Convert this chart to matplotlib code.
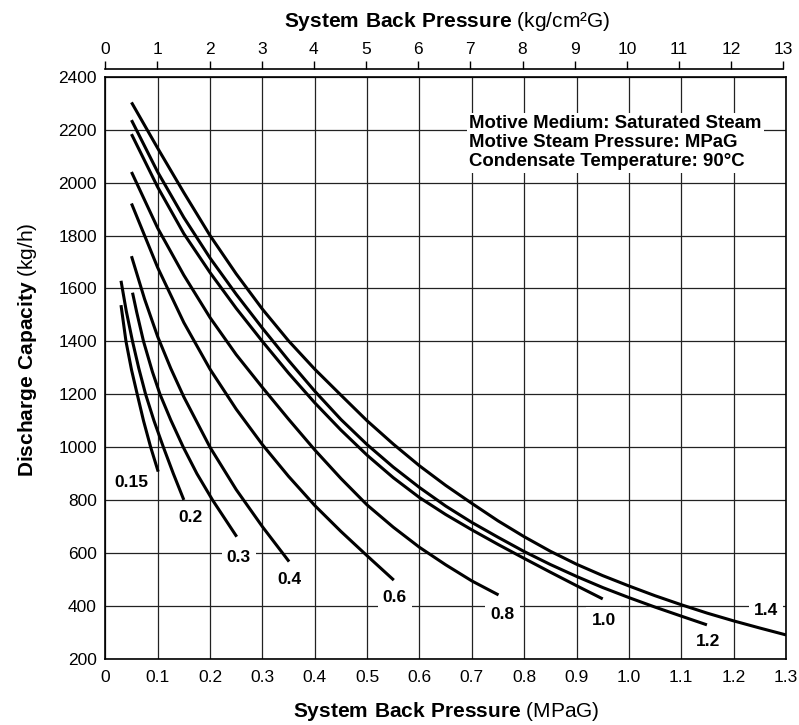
import numpy as np
import matplotlib
matplotlib.use('Agg')
import matplotlib.pyplot as plt

plt.rcParams['font.family'] = ['Liberation Sans', 'DejaVu Sans']
plt.rcParams['mathtext.fontset'] = 'custom'
plt.rcParams['mathtext.rm'] = 'Liberation Sans'
plt.rcParams['mathtext.bf'] = 'Liberation Sans:bold'

# curves: back pressure (MPaG) -> discharge capacity (kg/h)
c015_x = [0.030, 0.0395, 0.050, 0.061, 0.073, 0.0867, 0.101]
c015_y = [1537, 1400, 1293, 1200, 1100, 1000, 908]
c02_x = [0.030, 0.040, 0.052, 0.064, 0.077, 0.093, 0.111, 0.130, 0.150]
c02_y = [1629, 1515, 1400, 1298, 1200, 1100, 1000, 900, 801]
c03_x = [0.052, 0.060, 0.073, 0.090, 0.1045, 0.125, 0.149, 0.175, 0.205, 0.251]
c03_y = [1584, 1510, 1400, 1285, 1200, 1103, 1000, 900, 800, 662]
c04_x = [0.050, 0.075, 0.100, 0.125, 0.150, 0.200, 0.250, 0.300, 0.351]
c04_y = [1722, 1560, 1418, 1298, 1190, 1000, 840, 700, 568]
c06_x = [0.050, 0.100, 0.150, 0.200, 0.250, 0.300, 0.350, 0.400, 0.450, 0.500, 0.551]
c06_y = [1921, 1679, 1471, 1295, 1144, 1010, 890, 780, 682, 590, 498]
c08_x = [0.050, 0.100, 0.150, 0.200, 0.250, 0.300, 0.350, 0.400, 0.450, 0.500, 0.550, 0.600, 0.650, 0.700, 0.751]
c08_y = [2040, 1828, 1650, 1490, 1350, 1226, 1106, 990, 882, 782, 698, 622, 556, 495, 442]
c10_x = [0.050, 0.100, 0.150, 0.200, 0.250, 0.300, 0.350, 0.400, 0.450, 0.500, 0.550,
         0.600, 0.650, 0.700, 0.750, 0.800, 0.850, 0.900, 0.950]
c10_y = [2183, 1983, 1807, 1660, 1525, 1400, 1280, 1168, 1065, 970, 885,
         810, 746, 688, 633, 580, 528, 477, 427]
c12_x = [0.050, 0.100, 0.150, 0.200, 0.250, 0.300, 0.350, 0.400, 0.450, 0.500, 0.550, 0.600,
         0.650, 0.700, 0.750, 0.800, 0.850, 0.900, 0.950, 1.000, 1.050, 1.100, 1.149]
c12_y = [2236, 2040, 1868, 1715, 1578, 1450, 1328, 1212, 1105, 1010, 925, 848,
         778, 716, 660, 606, 557, 512, 470, 432, 396, 362, 329]
c14_x = [0.050, 0.100, 0.150, 0.200, 0.250, 0.300, 0.350, 0.400, 0.450, 0.500, 0.550, 0.600, 0.650,
         0.700, 0.750, 0.800, 0.850, 0.900, 0.950, 1.000, 1.050, 1.100, 1.150, 1.200, 1.250, 1.300]
c14_y = [2303, 2130, 1962, 1800, 1655, 1522, 1402, 1295, 1197, 1100, 1012, 930, 856,
         788, 722, 662, 607, 558, 515, 476, 439, 405, 373, 344, 317, 291]

curve_names = ['0.15', '0.2', '0.3', '0.4', '0.6', '0.8', '1.0', '1.2', '1.4']
curves_x = [c015_x, c02_x, c03_x, c04_x, c06_x, c08_x, c10_x, c12_x, c14_x]
curves_y = [c015_y, c02_y, c03_y, c04_y, c06_y, c08_y, c10_y, c12_y, c14_y]
# where each curve's name sits (data coords)
label_x = [0.050, 0.163, 0.255, 0.352, 0.553, 0.759, 0.952, 1.152, 1.262]
label_y = [865, 735, 584, 502, 431, 370, 347, 265, 385]

mpa_ticks = np.round(np.arange(0, 1.31, 0.1), 1)
mpa_labels = ['0' if t == 0 else f'{t:.1f}' for t in mpa_ticks]
cap_ticks = np.arange(200, 2401, 200)
kg_ticks = np.arange(0, 14)

W, H = 799, 725
fig = plt.figure(figsize=(W / 100, H / 100), dpi=100)
L, R, T, B = 105.3, 786, 76.7, 659
ax = fig.add_axes([L / W, 1 - B / H, (R - L) / W, (B - T) / H])

for xs, ys in zip(curves_x, curves_y):
    ax.plot(xs, ys, color='black', lw=2.2, solid_capstyle='butt',
            solid_joinstyle='round', zorder=2)

for name, lx, ly in zip(curve_names, label_x, label_y):
    ax.text(lx, ly, name, ha='center', va='center', fontsize=12.5, fontweight='bold',
            bbox=dict(boxstyle='square,pad=0.3', fc='white', ec='none'), zorder=3)

ax.text(0.6952, 2150,
        'Motive Medium: Saturated Steam\nMotive Steam Pressure: MPaG\nCondensate Temperature: 90°C',
        ha='left', va='center', fontsize=13.4, fontweight='bold', linespacing=1.15,
        bbox=dict(boxstyle='square,pad=0.15', fc='white', ec='none'), zorder=3)

ax.set_xlim(0, 1.3)
ax.set_ylim(200, 2400)
ax.set_xticks(mpa_ticks)
ax.set_xticklabels(mpa_labels)
ax.set_yticks(cap_ticks)
ax.tick_params(length=0, labelsize=12.5)
ax.tick_params(axis='x', pad=8)
ax.tick_params(axis='y', pad=6)
ax.grid(True, color='#222222', lw=0.9)
ax.set_axisbelow(True)
for s in ax.spines.values():
    s.set_linewidth(1.2)

# kg/cm2G scale above the plot box
top_y = 1 - 69 / H
axt = fig.add_axes([L / W, top_y - 0.0001, (783.3 - L) / W, 0.0001])
axt.set_xlim(0, 13)
axt.set_xticks(kg_ticks)
axt.xaxis.tick_top()
axt.set_yticks([])
axt.patch.set_alpha(0)
for k in ['left', 'right', 'bottom']:
    axt.spines[k].set_visible(False)
axt.spines['top'].set_linewidth(1.2)
axt.tick_params(axis='x', direction='out', length=5.8, width=1, labelsize=12.5, pad=3)

fig.text(447 / W, 1 - 26.7 / H, r'$\mathbf{System\ Back\ Pressure}$ (kg/cm²G)',
         ha='center', va='baseline', fontsize=15)
fig.text(446.7 / W, 1 - 716.7 / H, r'$\mathbf{System\ Back\ Pressure}$ (MPaG)',
         ha='center', va='baseline', fontsize=15)
fig.text(28 / W, 1 - 350 / H, r'$\mathbf{Discharge\ Capacity}$ (kg/h)',
         ha='center', va='center', rotation=90, fontsize=15)

fig.savefig('out.png', dpi=100, facecolor='white')
